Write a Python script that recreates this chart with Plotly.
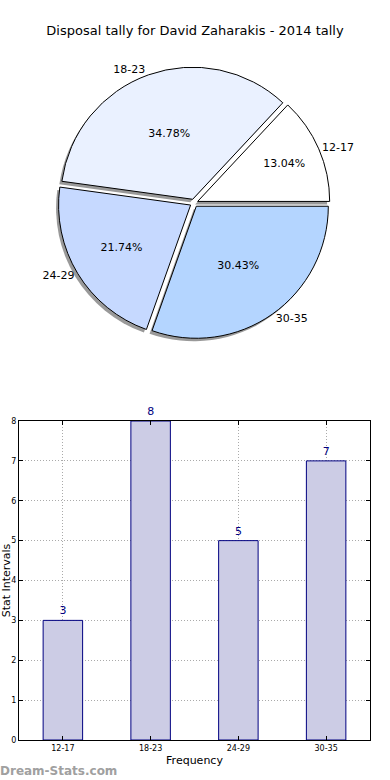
import plotly.graph_objects as go

# ---- data ----
categories = ["12-17", "18-23", "24-29", "30-35"]
counts = [3, 8, 5, 7]
pie_colors = ["#ffffff", "#eaf1ff", "#c6d9ff", "#b4d5ff"]
title_text = "Disposal tally for David Zaharakis - 2014 tally"
y_ticks = [0, 1, 2, 3, 4, 5, 6, 7, 8]

W, H = 390, 780
FONT = "DejaVu Sans"

fig = go.Figure()

# pie geometry (paper fractions)
pie_cx, pie_cy, pie_d = 194, 203, 272
pie_x = [(pie_cx - pie_d / 2) / W, (pie_cx + pie_d / 2) / W]
pie_y = [1 - (pie_cy + pie_d / 2) / H, 1 - (pie_cy - pie_d / 2) / H]
pulls = [0.03] * len(categories)
rot = 90 - 360 * counts[0] / sum(counts)
dx, dy = -2.5 / W, -3.0 / H

common = dict(labels=categories, values=counts, sort=False,
              direction="counterclockwise", rotation=rot, pull=pulls, showlegend=False)

# shadow pie
fig.add_trace(go.Pie(
    **common, textinfo="none", hoverinfo="skip",
    marker=dict(colors=["rgba(110,110,110,0.7)"] * 4, line=dict(width=0)),
    domain=dict(x=[pie_x[0] + dx, pie_x[1] + dx], y=[pie_y[0] + dy, pie_y[1] + dy]),
))
# main pie with percentages
fig.add_trace(go.Pie(
    **common, texttemplate="%{percent:.2%}", textposition="inside",
    insidetextorientation="horizontal",
    textfont=dict(family=FONT, size=11, color="black"),
    marker=dict(colors=pie_colors, line=dict(color="black", width=1)),
    domain=dict(x=pie_x, y=pie_y),
))
# outside labels
fig.add_trace(go.Pie(
    **common, texttemplate="%{label}", textposition="outside",
    outsidetextfont=dict(family=FONT, size=11, color="black"),
    marker=dict(colors=["rgba(0,0,0,0)"] * 4, line=dict(width=0)),
    domain=dict(x=pie_x, y=pie_y), hoverinfo="skip",
))

# bar chart
fig.add_trace(go.Bar(
    x=categories, y=counts, width=0.45,
    marker=dict(color="#ccccE5", line=dict(color="#000080", width=1)),
    text=counts, textposition="outside", cliponaxis=False,
    textfont=dict(family=FONT, size=11, color="#000080"),
    showlegend=False,
))

grid = dict(showgrid=True, gridcolor="#aaaaaa", griddash="1px,2px", gridwidth=1)

fig.update_layout(
    width=W, height=H,
    margin=dict(l=0, r=0, t=0, b=0),
    paper_bgcolor="white", plot_bgcolor="white",
    font=dict(family=FONT, color="black"),
    title=dict(text=title_text, x=0.5, xanchor="center", y=1 - 30 / H, yanchor="middle",
               font=dict(family=FONT, size=13, color="black")),
    xaxis=dict(domain=[19 / W, 370 / W], range=[-0.5, 3.5], type="category",
               showline=True, linecolor="black", linewidth=1, mirror="ticks",
               ticks="inside", ticklen=4, tickcolor="black",
               tickfont=dict(family=FONT, size=8), **grid,
               title=dict(text="Frequency", font=dict(family=FONT, size=11), standoff=4),
               automargin=False, zeroline=False),
    yaxis=dict(domain=[40 / H, 359 / H], range=[0, 8], tickvals=y_ticks,
               showline=True, linecolor="black", linewidth=1, mirror="ticks",
               ticks="inside", ticklen=4, tickcolor="black",
               tickfont=dict(family=FONT, size=8), **grid,
               title=dict(text="Stat Intervals", font=dict(family=FONT, size=11), standoff=2),
               automargin=False, zeroline=False),
    annotations=[dict(text="<b>Dream-Stats.com</b>", xref="paper", yref="paper",
                      x=-0.005, y=1 - 771 / H, xanchor="left", yanchor="middle",
                      showarrow=False, font=dict(family=FONT, size=12, color="#a0a0a0"))],
)

fig.write_html("out.html", config={"displayModeBar": False},
               post_script="document.body.style.margin='0';")
